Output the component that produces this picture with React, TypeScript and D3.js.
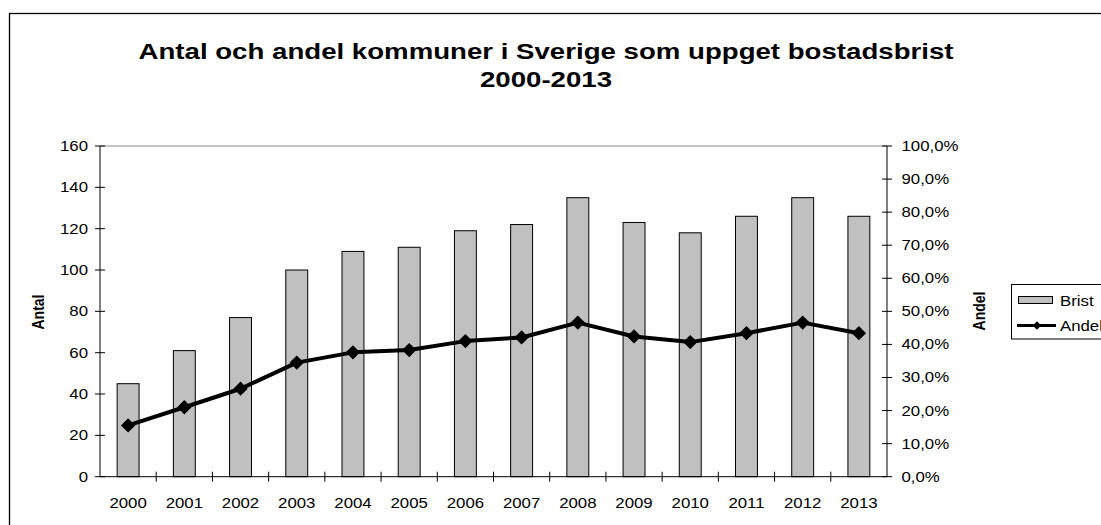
import React, { useEffect, useRef } from 'react';
import * as d3 from 'd3';

const years = ['2000', '2001', '2002', '2003', '2004', '2005', '2006', '2007', '2008', '2009', '2010', '2011', '2012', '2013'];
const brist = [45, 61, 77, 100, 109, 111, 119, 122, 135, 123, 118, 126, 135, 126];
const andel = [0.155, 0.21, 0.266, 0.345, 0.376, 0.383, 0.41, 0.421, 0.466, 0.424, 0.407, 0.434, 0.466, 0.434];
const leftTicks = [0, 20, 40, 60, 80, 100, 120, 140, 160];
const rightTicks = [0, 0.1, 0.2, 0.3, 0.4, 0.5, 0.6, 0.7, 0.8, 0.9, 1.0];

const font = 'Liberation Sans, Arial, sans-serif';

type Sel = d3.Selection<any, unknown, null, undefined>;

// the reference is stretched sideways, so text gets an x-scale
function label(parent: Sel, x: number, y: number, str: string, size: number, anchor = 'start', bold = false, sx = 1.2) {
  parent.append('g')
    .attr('transform', `translate(${x},${y}) scale(${sx},1)`)
    .append('text')
    .attr('text-anchor', anchor)
    .attr('font-family', font)
    .attr('font-weight', bold ? 'bold' : 'normal')
    .attr('font-size', size)
    .text(str);
}

const App: React.FC = () => {
  const svgRef = useRef<SVGSVGElement>(null);

  useEffect(() => {
    if (!svgRef.current) return;
    const svg = d3.select(svgRef.current);
    svg.selectAll('*').remove();

    const left = 100, right = 887, top = 146, bottom = 476.7;

    // outer chart border
    svg.append('rect')
      .attr('x', 9.5).attr('y', 13.5)
      .attr('width', 1200).attr('height', 600)
      .attr('fill', '#fff').attr('stroke', '#000').attr('stroke-width', 1.3);

    label(svg, 546, 59.3, 'Antal och andel kommuner i Sverige som uppget bostadsbrist', 22.5, 'middle', true, 1.228);
    label(svg, 546, 87.3, '2000-2013', 22.5, 'middle', true, 1.228);

    const x = d3.scaleBand().domain(years).range([left, right]).paddingInner(0.61).paddingOuter(0.305);
    const xc = d3.scaleBand().domain(years).range([left, right]);
    const y = d3.scaleLinear().domain([0, 160]).range([bottom, top]);
    const y2 = d3.scaleLinear().domain([0, 1]).range([bottom, top]);

    // top gridline
    svg.append('line')
      .attr('x1', left).attr('x2', right).attr('y1', y(160)).attr('y2', y(160))
      .attr('stroke', '#888').attr('stroke-width', 1);

    // bars
    svg.append('g').selectAll('rect').data(years).enter().append('rect')
      .attr('x', d => x(d) || 0)
      .attr('y', (d, i) => y(brist[i]))
      .attr('width', x.bandwidth())
      .attr('height', (d, i) => bottom - y(brist[i]))
      .attr('fill', '#c0c0c0').attr('stroke', '#000').attr('stroke-width', 1);

    // left axis
    const gl = svg.append('g').attr('transform', `translate(${left},0)`);
    gl.append('line').attr('y1', top).attr('y2', bottom).attr('stroke', '#000');
    leftTicks.forEach(t => {
      gl.append('line').attr('x1', -5).attr('x2', 5).attr('y1', y(t)).attr('y2', y(t)).attr('stroke', '#000');
      label(gl, -12, y(t) + 5, String(t), 14, 'end');
    });

    // right axis
    const gr = svg.append('g').attr('transform', `translate(${right},0)`);
    gr.append('line').attr('y1', top).attr('y2', bottom).attr('stroke', '#000');
    const pct = (v: number) => (v * 100).toFixed(1).replace('.', ',') + '%';
    rightTicks.forEach(t => {
      gr.append('line').attr('x1', -5).attr('x2', 5).attr('y1', y2(t)).attr('y2', y2(t)).attr('stroke', '#000');
      label(gr, 14.5, y2(t) + 5, pct(t), 14);
    });

    // bottom axis
    const gb = svg.append('g').attr('transform', `translate(0,${bottom})`);
    gb.append('line').attr('x1', left).attr('x2', right).attr('stroke', '#000');
    years.forEach((d, i) => {
      const bx = xc(d) || 0;
      if (i > 0) gb.append('line').attr('x1', bx).attr('x2', bx).attr('y1', -5).attr('y2', 5).attr('stroke', '#000');
      label(gb, bx + xc.bandwidth() / 2, 31.5, d, 14, 'middle');
    });

    // axis titles
    svg.append('g').attr('transform', 'translate(44,312) rotate(-90) scale(1,1.2)')
      .append('text').attr('text-anchor', 'middle').attr('font-family', font).attr('font-weight', 'bold').attr('font-size', 14).text('Antal');
    svg.append('g').attr('transform', 'translate(985,311) rotate(-90) scale(1,1.2)')
      .append('text').attr('text-anchor', 'middle').attr('font-family', font).attr('font-weight', 'bold').attr('font-size', 14).text('Andel');

    // line
    const cx = (d: string) => (xc(d) || 0) + xc.bandwidth() / 2;
    const line = d3.line<number>().x((v, i) => cx(years[i])).y(v => y2(v));
    svg.append('path').datum(andel).attr('d', line)
      .attr('fill', 'none').attr('stroke', '#000').attr('stroke-width', 4).attr('stroke-linejoin', 'round');
    const diamond = d3.symbol().type(d3.symbolDiamond2).size(130);
    svg.append('g').selectAll('path').data(andel).enter().append('path')
      .attr('d', diamond)
      .attr('transform', (v, i) => `translate(${cx(years[i])},${y2(v)})`)
      .attr('fill', '#000');

    // legend
    const lg = svg.append('g');
    lg.append('rect').attr('x', 1011.5).attr('y', 284.5).attr('width', 120).attr('height', 54.5)
      .attr('fill', '#fff').attr('stroke', '#000').attr('stroke-width', 1);
    lg.append('rect').attr('x', 1018.5).attr('y', 296.5).attr('width', 34).attr('height', 7)
      .attr('fill', '#c0c0c0').attr('stroke', '#000').attr('stroke-width', 1);
    label(lg, 1060, 305.5, 'Brist', 14);
    lg.append('line').attr('x1', 1017).attr('x2', 1056).attr('y1', 325.5).attr('y2', 325.5)
      .attr('stroke', '#000').attr('stroke-width', 3);
    lg.append('path').attr('d', d3.symbol().type(d3.symbolDiamond2).size(45)).attr('transform', 'translate(1037,325.5)').attr('fill', '#000');
    label(lg, 1060, 331, 'Andel', 14);
  }, []);

  return (
    <svg ref={svgRef} width={1101} height={525} style={{ position: 'absolute', left: 0, top: 0 }} />
  );
};

export default App;
